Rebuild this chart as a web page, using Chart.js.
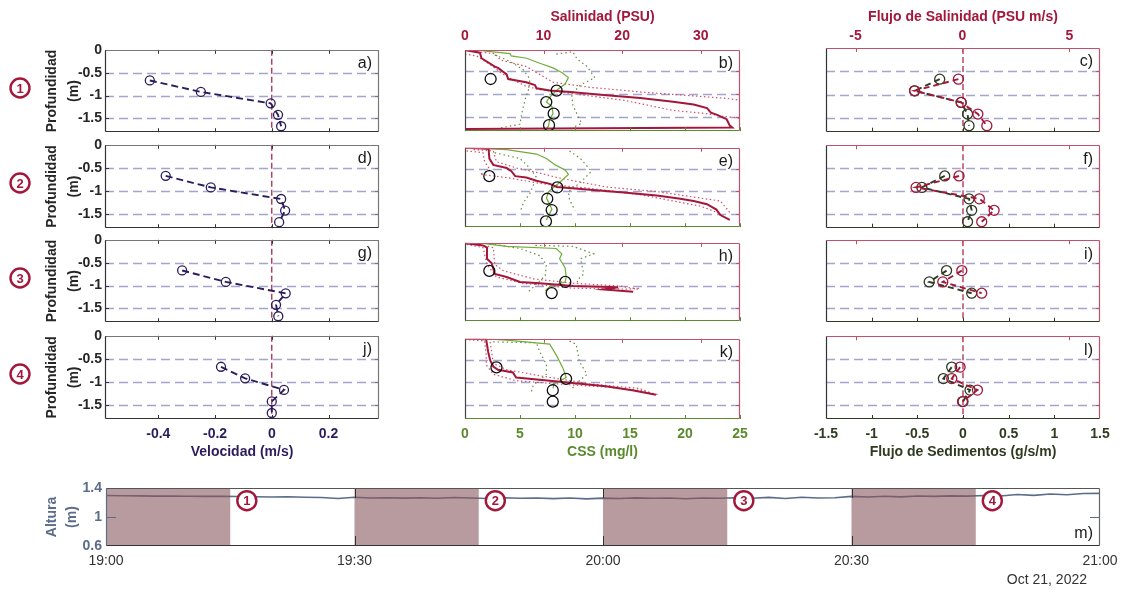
<!DOCTYPE html>
<html>
<head>
<meta charset="utf-8">
<script src="https://cdn.jsdelivr.net/npm/chart.js@4.4.1/dist/chart.umd.min.js"></script>
<style>
  html, body { margin: 0; padding: 0; background: #fff; }
  #fig { position: relative; width: 1122px; height: 592px; overflow: hidden; background: #fff; }
  #fig canvas { position: absolute; }
</style>
</head>
<body>
<div id="fig"></div>
<script>
// ---------------------------------------------------------------------------
// Data
// ---------------------------------------------------------------------------
// Depth (m) of the ADCP bins
const binDepth = [-0.67, -0.92, -1.17, -1.42, -1.67];

// Along-channel velocity (m/s) per bin, one array per sampling window
const velA = [-0.43, -0.25, -0.004, 0.022, 0.033];
const velD = [-0.374, -0.215, 0.033, 0.047, 0.026];
const velG = [-0.316, -0.162, 0.049, 0.015, 0.023];
const velJ = [-0.179, -0.094, 0.043, 0.0, 0.0];

// Salt flux (PSU m/s) and sediment flux (g/s/m) per bin
const saltFluxC = [-0.19, -2.24, -0.06, 0.72, 1.14];
const saltFluxF = [-0.16, -2.17, 0.79, 1.48, 0.90];
const saltFluxI = [-0.03, -0.92, 0.90];
const saltFluxL = [-0.11, -0.50, 0.70, 0.0];
const sedFluxC = [-0.255, -0.53, -0.02, 0.05, 0.066];
const sedFluxF = [-0.20, -0.45, 0.066, 0.095, 0.05];
const sedFluxI = [-0.18, -0.37, 0.095];
const sedFluxL = [-0.124, -0.215, 0.077, 0.0];

// Suspended sediment concentration at the bins (mg/l)
const cssBinB = [2.33, 8.33, 7.39, 8.06, 7.64];
const cssBinE = [2.21, 8.39, 7.48, 7.88, 7.36];
const cssBinH = [2.21, 9.12, 7.88];
const cssBinK = [2.86, 9.19, 7.98, 7.98];

// CTD profiles as [value, depth] pairs: salinity (PSU) mean and +/- spread,
// turbidity-derived CSS (mg/l) mean and +/- spread
const salB = [[0.13,-0.05],[1.9,-0.10],[2.1,-0.22],[3.8,-0.40],[4.2,-0.43],[5.3,-0.57],[5.5,-0.67],[7.8,-0.74],[8.9,-0.80],[9.1,-0.87],[10.8,-0.92],[13.4,-0.95],[18.0,-1.02],[22.3,-1.08],[26.5,-1.16],[29.1,-1.22],[30.8,-1.30],[31.3,-1.40],[32.0,-1.44],[33.3,-1.54],[33.7,-1.68],[34.0,-1.72],[0.0,-1.75]];
const salLoB = [[0,-0.13],[1.5,-0.17],[3.2,-0.36],[4.7,-0.55],[5.9,-0.67],[7.8,-0.83],[9.5,-0.90],[13.8,-0.99],[20.2,-1.13],[26.5,-1.35],[30.8,-1.42],[33.0,-1.48],[35.0,-1.52]];
const salHiB = [[1.5,-0.08],[3.8,-0.12],[4.5,-0.26],[6.2,-0.33],[7.8,-0.40],[9.5,-0.57],[11.2,-0.74],[15.9,-0.85],[22.3,-0.95],[28.6,-1.03],[33.3,-1.09],[35.0,-1.13]];
const cssB = [[1.67,-0.06],[4.1,-0.12],[4.2,-0.17],[5.6,-0.22],[6.8,-0.33],[8.0,-0.43],[8.8,-0.53],[9.4,-0.64],[9.1,-0.78],[8.3,-0.92],[7.6,-1.09],[7.4,-1.17],[7.9,-1.26],[8.0,-1.42],[7.7,-1.54],[7.6,-1.68],[7.4,-1.75]];
const cssLoB = [[2.7,-0.15],[4.1,-0.29],[5.3,-0.47],[5.9,-0.67],[5.8,-0.88],[5.5,-1.09],[5.2,-1.37],[5.0,-1.65],[3.2,-1.73]];
const cssHiB = [[8.3,-0.13],[9.8,-0.08],[10.2,-0.24],[11.1,-0.40],[11.8,-0.64],[10.5,-0.80],[9.7,-0.99],[9.8,-1.23],[10.2,-1.44],[10.6,-1.63],[9.8,-1.72]];

const salE = [[0,-0.04],[3.0,-0.06],[3.1,-0.28],[3.6,-0.42],[5.3,-0.49],[5.9,-0.56],[6.4,-0.67],[7.8,-0.70],[9.1,-0.77],[10.8,-0.84],[11.7,-0.91],[15.9,-0.97],[20.2,-1.03],[24.4,-1.10],[26.5,-1.15],[27.4,-1.17],[29.1,-1.22],[30.8,-1.29],[32.0,-1.41],[32.5,-1.53],[33.7,-1.64]];
const salLoE = [[0.2,-0.11],[2.3,-0.15],[2.5,-0.35],[3.2,-0.53],[1.9,-0.63],[5.3,-0.70],[9.5,-0.83],[15.9,-0.94],[22.3,-1.08],[26.5,-1.22],[29.9,-1.33],[32.5,-1.50]];
const salHiE = [[1.1,-0.08],[3.6,-0.11],[4.0,-0.35],[6.6,-0.49],[9.5,-0.60],[11.7,-0.70],[18.0,-0.91],[24.4,-1.01],[28.6,-1.12],[32.5,-1.22],[33.7,-1.47]];
const cssE = [[1.67,-0.06],[3.8,-0.08],[6.5,-0.18],[7.4,-0.28],[8.2,-0.42],[9.1,-0.53],[9.4,-0.63],[8.6,-0.81],[7.6,-1.01],[7.4,-1.15],[7.9,-1.40],[7.4,-1.64]];
const cssLoE = [[2.7,-0.15],[5.0,-0.28],[5.9,-0.49],[6.5,-0.70],[5.9,-1.05],[5.3,-1.26],[5.0,-1.47]];
const cssHiE = [[9.5,-0.11],[10.5,-0.28],[11.5,-0.56],[10.5,-0.81],[9.4,-1.01],[9.5,-1.19],[10.0,-1.43]];

const salH = [[0,-0.05],[2.3,-0.10],[2.8,-0.15],[2.8,-0.40],[3.4,-0.50],[3.8,-0.74],[5.3,-0.81],[7.0,-0.92],[9.5,-0.95],[13.8,-1.01],[19.5,-1.04],[17.6,-1.09],[21.4,-1.14]];
const salLoH = [[0.2,-0.08],[2.3,-0.15],[2.8,-0.53],[4.0,-0.81],[7.4,-0.95],[13.8,-1.06],[20.6,-1.08],[22.3,-1.06]];
const salHiH = [[1.9,-0.08],[3.6,-0.15],[3.8,-0.53],[4.9,-0.67],[8.7,-0.85],[13.8,-0.95],[19.7,-1.01],[22.3,-1.09]];
const cssH = [[1.8,-0.06],[3.8,-0.12],[8.3,-0.17],[8.8,-0.29],[8.6,-0.40],[9.1,-0.60],[9.2,-0.81],[9.1,-0.92],[7.7,-1.02],[7.3,-1.12]];
const cssLoH = [[2.7,-0.08],[5.0,-0.17],[6.8,-0.33],[7.4,-0.53],[7.3,-0.78],[5.8,-1.13]];
const cssHiH = [[6.4,-0.10],[9.8,-0.12],[11.7,-0.29],[10.5,-0.40],[10.8,-0.74],[10.2,-0.88],[10.3,-1.09]];

const salK = [[0,-0.02],[2.7,-0.06],[2.95,-0.33],[3.2,-0.51],[3.6,-0.65],[4.2,-0.72],[6.1,-0.78],[6.5,-0.89],[9.5,-0.94],[13.7,-1.01],[17.9,-1.08],[21.3,-1.17],[24.3,-1.27]];
const salLoK = [[0,-0.06],[2.5,-0.09],[2.7,-0.40],[2.7,-0.61],[3.6,-0.82],[6.5,-0.96],[11.6,-1.03],[17.9,-1.10],[22.2,-1.17],[24.7,-1.27]];
const salHiK = [[3.2,-0.11],[3.6,-0.58],[5.3,-0.72],[9.5,-0.85],[15.8,-1.03],[22.2,-1.13],[23.8,-1.24]];
const cssK = [[1.66,-0.04],[3.77,-0.07],[7.7,-0.16],[8.3,-0.40],[8.9,-0.68],[9.2,-0.89],[8.1,-1.03],[8.0,-1.13]];
const cssLoK = [[2.56,-0.11],[6.5,-0.13],[6.8,-0.33],[7.4,-0.61],[7.4,-0.82],[6.2,-1.06],[6.0,-1.24]];
const cssHiK = [[9.5,-0.09],[10.1,-0.16],[10.4,-0.54],[11.1,-0.82],[10.4,-0.96],[9.6,-1.17]];

// Water level (m) every two minutes from 19:00
const tideMinute = [0,2,4,6,8,10,12,14,16,18,20,22,24,26,28,30,32,34,36,38,40,42,44,46,48,50,52,54,56,58,60,62,64,66,68,70,72,74,76,78,80,82,84,86,88,90,92,94,96,98,100,102,104,106,108,110,112,114,116,118,120];
const tideHeight = [1.297,1.294,1.292,1.288,1.290,1.286,1.284,1.286,1.282,1.280,1.276,1.279,1.272,1.268,1.256,1.272,1.262,1.266,1.260,1.266,1.258,1.268,1.262,1.255,1.266,1.258,1.262,1.254,1.262,1.250,1.260,1.256,1.264,1.258,1.262,1.252,1.262,1.258,1.266,1.258,1.270,1.256,1.272,1.262,1.266,1.285,1.276,1.286,1.278,1.290,1.284,1.292,1.288,1.296,1.290,1.310,1.298,1.318,1.306,1.324,1.326];
// Sampling windows (minutes after 19:00) and their numbers
const sampleWindows = [[0, 15], [30, 45], [60, 75], [90, 105]];
const windowNames = ['1', '2', '3', '4'];

// Axis ticks
const depthTicks = [0, -0.5, -1, -1.5];
const velTicks = [-0.4, -0.2, 0, 0.2];
const salTicks = [0, 10, 20, 30];
const cssTicks = [0, 5, 10, 15, 20, 25];
const saltFluxTicks = [-5, 0, 5];
const sedFluxTicks = [-1.5, -1, -0.5, 0, 0.5, 1, 1.5];
const tideTicks = [0.6, 1, 1.4];
const timeTicks = [0, 30, 60, 90, 120];
const timeLabels = ['19:00', '19:30', '20:00', '20:30', '21:00'];

// ---------------------------------------------------------------------------
// Styling
// ---------------------------------------------------------------------------
const INK = '#262626';
const NAVY = '#2b1d5c';
const CRIMSON = '#a3173b';
const CRIMSON_FRAME = '#c0506c';
const CSS_GREEN = '#5b8a2e';
const CSS_LINE = '#6fae37';
const CSS_DOT = '#5f9040';
const SED_GREEN = '#2f3b20';
const SLATE = '#5b6d89';
const GUIDE = '#a4a4cc';
const FONT = "'Liberation Sans', Arial, Helvetica, sans-serif";

Chart.defaults.font.family = FONT;

// Row extents (page px) of the four profile rows and the three columns
const rowTop = [48, 143, 238, 334];
const rowBot = [134, 230, 324, 419];
const colVel = { x: 105, w: 274 };
const colProf = { x: 465, w: 275 };
const colFlux = { x: 826, w: 274 };

const fig = document.getElementById('fig');

// ---------------------------------------------------------------------------
// Decorations: guide lines, shaded windows, frame, inward ticks, labels
// ---------------------------------------------------------------------------
function badge(ctx, x, y, text) {
  ctx.save();
  ctx.setLineDash([]);
  ctx.beginPath();
  ctx.arc(x, y, 9.5, 0, Math.PI * 2);
  ctx.fillStyle = '#fff';
  ctx.fill();
  ctx.lineWidth = 2.4;
  ctx.strokeStyle = CRIMSON;
  ctx.stroke();
  ctx.fillStyle = CRIMSON;
  ctx.font = 'bold 13px ' + FONT;
  ctx.textAlign = 'center';
  ctx.textBaseline = 'middle';
  ctx.fillText(text, x, y + 1);
  ctx.restore();
}

const decorPlugin = {
  id: 'decor',
  beforeDatasetsDraw(chart) {
    const d = chart.canvas.decor;
    if (!d || !d.hlines) return;
    const { ctx, chartArea: a, scales } = chart;
    ctx.save();
    ctx.strokeStyle = GUIDE;
    ctx.lineWidth = 1.4;
    ctx.setLineDash([9, 5]);
    d.hlines.forEach(v => {
      const p = Math.round(scales.y.getPixelForValue(v)) + 0.5;
      ctx.beginPath();
      ctx.moveTo(a.left, p);
      ctx.lineTo(a.right, p);
      ctx.stroke();
    });
    ctx.restore();
  },
  afterDatasetsDraw(chart) {
    const d = chart.canvas.decor;
    if (!d) return;
    const { ctx, chartArea: a, scales } = chart;
    ctx.save();
    ctx.setLineDash([]);
    if (d.bands) {
      const sc = scales[d.bands.scale];
      ctx.fillStyle = d.bands.color;
      d.bands.ranges.forEach(([s, e]) => {
        const x0 = sc.getPixelForValue(s), x1 = sc.getPixelForValue(e);
        ctx.fillRect(x0, a.top, x1 - x0, a.bottom - a.top);
      });
    }
    (d.ticks || []).forEach(t => {
      const sc = scales[t.scale];
      ctx.strokeStyle = t.color;
      ctx.lineWidth = 1;
      t.values.forEach(v => {
        const p = Math.round(sc.getPixelForValue(v)) + 0.5;
        ctx.beginPath();
        if (t.side === 'top') { ctx.moveTo(p, a.top); ctx.lineTo(p, a.top + t.len); }
        else if (t.side === 'bottom') { ctx.moveTo(p, a.bottom); ctx.lineTo(p, a.bottom - t.len); }
        else if (t.side === 'left') { ctx.moveTo(a.left, p); ctx.lineTo(a.left + t.len, p); }
        else { ctx.moveTo(a.right, p); ctx.lineTo(a.right - t.len, p); }
        ctx.stroke();
      });
    });
    if (d.frame) {
      const L = Math.round(a.left) + 0.5, R = Math.round(a.right) - 0.5;
      const T = Math.round(a.top) + 0.5, B = Math.round(a.bottom) - 0.5;
      const seg = (x0, y0, x1, y1, c) => {
        ctx.strokeStyle = c; ctx.lineWidth = 1.2;
        ctx.beginPath(); ctx.moveTo(x0, y0); ctx.lineTo(x1, y1); ctx.stroke();
      };
      seg(L, T, R, T, d.frame.top);
      seg(R, T, R, B, d.frame.right);
      seg(L, B, R, B, d.frame.bottom);
      seg(L, T, L, B, d.frame.left);
    }
    if (d.label) {
      ctx.fillStyle = '#1a1a1a';
      ctx.font = '16px ' + FONT;
      ctx.textAlign = 'right';
      ctx.textBaseline = 'middle';
      const y = d.label.atBottom ? a.bottom - 12 : a.top + 14;
      ctx.fillText(d.label.text, a.right - 7, y);
    }
    (d.texts || []).forEach(t => {
      ctx.fillStyle = t.color;
      ctx.font = t.font;
      ctx.textAlign = t.align;
      ctx.textBaseline = 'middle';
      ctx.fillText(t.text, t.x - d.ox, t.y - d.oy);
    });
    (d.badges || []).forEach(b => {
      let x, y;
      if (b.px !== undefined) { x = b.px - d.ox; y = b.py - d.oy; }
      else { x = scales.x.getPixelForValue(b.x); y = scales.y.getPixelForValue(b.y); }
      badge(ctx, x, y, b.text);
    });
    ctx.restore();
  }
};
Chart.register(decorPlugin);

// ---------------------------------------------------------------------------
// Helpers
// ---------------------------------------------------------------------------
const fmt = v => String(Math.round(v * 100) / 100);
const pts = (xs, ys) => xs.map((x, i) => ({ x, y: ys[i] }));
const pairs = arr => arr.map(([x, y]) => ({ x, y }));

function axis(o) {
  const titleFont = { size: 14, weight: 'bold', lineHeight: o.titleLH ? o.titleLH / 14 : 1.2 };
  return {
    type: 'linear',
    position: o.pos,
    min: o.min,
    max: o.max,
    display: !!o.show,
    grid: { display: false, drawTicks: false },
    border: { display: false },
    afterBuildTicks: s => { s.ticks = o.ticks.map(v => ({ value: v })); },
    afterFit: s => {
      if (!o.show) return;
      if (s.isHorizontal()) s.height = o.size; else s.width = o.size;
      s.paddingLeft = s.paddingRight = s.paddingTop = s.paddingBottom = 0;
    },
    ticks: {
      display: !!o.show,
      autoSkip: false,
      maxRotation: 0,
      minRotation: 0,
      padding: o.pad === undefined ? 4 : o.pad,
      color: o.color,
      font: { size: 14, weight: o.normal ? 'normal' : 'bold' },
      callback: o.labels ? (v => o.labels[o.ticks.indexOf(v)]) : (v => fmt(v))
    },
    title: o.title && o.show
      ? { display: true, text: o.title, color: o.color, font: titleFont, padding: o.titlePad }
      : { display: false }
  };
}

function makeChart(area, pad, datasets, scales, decor) {
  const cv = document.createElement('canvas');
  const cw = area.w + pad.l + pad.r, ch = area.h + pad.t + pad.b;
  const ox = area.x - pad.l, oy = area.y - pad.t;
  cv.width = cw; cv.height = ch;
  cv.style.left = ox + 'px'; cv.style.top = oy + 'px';
  cv.style.width = cw + 'px'; cv.style.height = ch + 'px';
  fig.appendChild(cv);
  decor.ox = ox; decor.oy = oy;
  cv.decor = decor;
  const shown = { left: false, right: false, top: false, bottom: false };
  Object.values(scales).forEach(s => { if (s.display) shown[s.position] = true; });
  return new Chart(cv, {
    type: 'scatter',
    data: { datasets },
    options: {
      animation: false,
      responsive: false,
      events: [],
      layout: { padding: {
        left: shown.left ? 0 : pad.l, right: shown.right ? 0 : pad.r,
        top: shown.top ? 0 : pad.t, bottom: shown.bottom ? 0 : pad.b } },
      plugins: { legend: { display: false }, tooltip: { enabled: false } },
      elements: { line: { tension: 0 } },
      scales
    }
  });
}

function lineSet(data, color, width, dash, xAxisID, order) {
  return { data, xAxisID, showLine: true, borderColor: color, borderWidth: width,
           borderDash: dash, pointRadius: 0, order };
}
function markerSet(data, color, radius, dash, xAxisID, order) {
  return { data, xAxisID, showLine: !!dash, borderColor: color, borderWidth: dash ? 1.9 : 0,
           borderDash: dash || [], pointRadius: radius, pointBorderColor: color,
           pointBackgroundColor: 'rgba(0,0,0,0)', pointBorderWidth: 1.3, order };
}

// ---------------------------------------------------------------------------
// Left column: velocity profiles
// ---------------------------------------------------------------------------
const velPanels = [
  { vel: velA, label: 'a)' }, { vel: velD, label: 'd)' },
  { vel: velG, label: 'g)' }, { vel: velJ, label: 'j)' }
];
velPanels.forEach((p, r) => {
  const area = { x: colVel.x, y: rowTop[r], w: colVel.w, h: rowBot[r] - rowTop[r] };
  const pad = { l: 105, r: 8, t: 4, b: r === 3 ? 45 : 4 };
  const datasets = [
    markerSet(pts(p.vel, binDepth), NAVY, 4.5, [7, 4], 'x', 1),
    lineSet([{ x: 0, y: 0 }, { x: 0, y: -1.8 }], CRIMSON, 1.2, [6, 3], 'x', 5)
  ];
  const scales = {
    x: axis({ pos: 'bottom', min: -0.588, max: 0.378, ticks: velTicks, show: r === 3, size: pad.b,
              color: NAVY, pad: 7, title: 'Velocidad (m/s)', titlePad: { top: 0, bottom: 3 } }),
    y: axis({ pos: 'left', min: -1.8, max: 0, ticks: depthTicks, show: true, size: 105, color: INK,
              pad: 3, title: ['Profundidad', '(m)'], titleLH: 22, titlePad: { top: 41, bottom: 0 } })
  };
  makeChart(area, pad, datasets, scales, {
    hlines: [-0.5, -1, -1.5],
    frame: { left: '#333', bottom: '#333', top: '#777', right: '#777' },
    ticks: [
      { scale: 'x', side: 'bottom', values: velTicks, color: '#333', len: 4 },
      { scale: 'x', side: 'top', values: velTicks, color: '#333', len: 4 },
      { scale: 'y', side: 'left', values: depthTicks, color: '#333', len: 4 },
      { scale: 'y', side: 'right', values: depthTicks, color: '#777', len: 4 }
    ],
    label: { text: p.label },
    badges: [{ px: 20, py: rowTop[r] + 40, text: windowNames[r] }]
  });
});

// ---------------------------------------------------------------------------
// Middle column: salinity and CSS profiles
// ---------------------------------------------------------------------------
const profPanels = [
  { sal: salB, lo: salLoB, hi: salHiB, css: cssB, cLo: cssLoB, cHi: cssHiB, bins: cssBinB, label: 'b)' },
  { sal: salE, lo: salLoE, hi: salHiE, css: cssE, cLo: cssLoE, cHi: cssHiE, bins: cssBinE, label: 'e)' },
  { sal: salH, lo: salLoH, hi: salHiH, css: cssH, cLo: cssLoH, cHi: cssHiH, bins: cssBinH, label: 'h)' },
  { sal: salK, lo: salLoK, hi: salHiK, css: cssK, cLo: cssLoK, cHi: cssHiK, bins: cssBinK, label: 'k)' }
];
profPanels.forEach((p, r) => {
  const top = rowTop[r] + 2;
  const h = rowBot[r] - top;
  const yMax = -2 * 1.8 / (rowBot[r] - rowTop[r]);
  const area = { x: colProf.x, y: top, w: colProf.w, h };
  const pad = { l: 8, r: 12, t: r === 0 ? top : 4, b: r === 3 ? 45 : 4 };
  const datasets = [
    markerSet(pts(p.bins, binDepth), '#111', 5.5, null, 'xC', 0),
    lineSet(pairs(p.sal), CRIMSON, 2, [], 'xS', 1),
    lineSet(pairs(p.css), CSS_LINE, 1.2, [], 'xC', 2),
    lineSet(pairs(p.lo), '#d0506a', 1.2, [1.5, 2.5], 'xS', 3),
    lineSet(pairs(p.hi), '#d0506a', 1.2, [1.5, 2.5], 'xS', 3),
    lineSet(pairs(p.cLo), CSS_DOT, 1.2, [1.5, 3], 'xC', 4),
    lineSet(pairs(p.cHi), CSS_DOT, 1.2, [1.5, 3], 'xC', 4)
  ];
  const scales = {
    xS: axis({ pos: 'top', min: 0, max: 35, ticks: salTicks, show: r === 0, size: pad.t, color: CRIMSON,
               pad: 5.6, title: 'Salinidad (PSU)', titlePad: { top: 8.3, bottom: 0 } }),
    xC: axis({ pos: 'bottom', min: 0, max: 25, ticks: cssTicks, show: r === 3, size: pad.b, color: CSS_GREEN,
               pad: 6.5, title: 'CSS (mg/l)', titlePad: { top: 0, bottom: 3 } }),
    y: axis({ pos: 'left', min: -1.8, max: yMax, ticks: depthTicks, show: false })
  };
  makeChart(area, pad, datasets, scales, {
    hlines: [-0.5, -1, -1.5],
    frame: { left: '#444', bottom: CSS_GREEN, top: CRIMSON_FRAME, right: CRIMSON_FRAME },
    ticks: [
      { scale: 'xS', side: 'top', values: salTicks, color: CRIMSON_FRAME, len: 4 },
      { scale: 'xC', side: 'bottom', values: cssTicks, color: CSS_GREEN, len: 4 },
      { scale: 'y', side: 'right', values: [-0.5, -1, -1.5], color: CRIMSON_FRAME, len: 4 }
    ],
    label: { text: p.label }
  });
});

// ---------------------------------------------------------------------------
// Right column: salt and sediment fluxes
// ---------------------------------------------------------------------------
const fluxPanels = [
  { salt: saltFluxC, sed: sedFluxC, label: 'c)' }, { salt: saltFluxF, sed: sedFluxF, label: 'f)' },
  { salt: saltFluxI, sed: sedFluxI, label: 'i)' }, { salt: saltFluxL, sed: sedFluxL, label: 'l)' }
];
fluxPanels.forEach((p, r) => {
  const area = { x: colFlux.x, y: rowTop[r], w: colFlux.w, h: rowBot[r] - rowTop[r] };
  const pad = { l: 16, r: 16, t: r === 0 ? rowTop[0] : 4, b: r === 3 ? 45 : 4 };
  const datasets = [
    markerSet(pts(p.salt, binDepth), CRIMSON, 5, [6, 4], 'xF', 1),
    markerSet(pts(p.sed, binDepth), SED_GREEN, 5, [6, 4], 'xSed', 2),
    lineSet([{ x: 0, y: 0 }, { x: 0, y: -1.8 }], CRIMSON, 1.2, [6, 3], 'xSed', 5)
  ];
  const scales = {
    xF: axis({ pos: 'top', min: -6.38, max: 6.43, ticks: saltFluxTicks, show: r === 0, size: pad.t,
               color: CRIMSON, pad: 3.6, title: 'Flujo de Salinidad (PSU m/s)', titlePad: { top: 8.3, bottom: 0 } }),
    xSed: axis({ pos: 'bottom', min: -1.5, max: 1.5, ticks: sedFluxTicks, show: r === 3, size: pad.b,
                 color: SED_GREEN, pad: 6.5, title: 'Flujo de Sedimentos (g/s/m)', titlePad: { top: 0, bottom: 3 } }),
    y: axis({ pos: 'left', min: -1.8, max: 0, ticks: depthTicks, show: false })
  };
  makeChart(area, pad, datasets, scales, {
    hlines: [-0.5, -1, -1.5],
    frame: { left: '#333', bottom: SED_GREEN, top: CRIMSON_FRAME, right: CRIMSON_FRAME },
    ticks: [
      { scale: 'xF', side: 'top', values: saltFluxTicks, color: CRIMSON_FRAME, len: 4 },
      { scale: 'xSed', side: 'bottom', values: [-1, -0.5, 0, 0.5, 1], color: SED_GREEN, len: 4 },
      { scale: 'y', side: 'right', values: [-0.5, -1, -1.5], color: CRIMSON_FRAME, len: 4 }
    ],
    label: { text: p.label }
  });
});

// ---------------------------------------------------------------------------
// Bottom: water level with the four sampling windows
// ---------------------------------------------------------------------------
(() => {
  const area = { x: 106, y: 488, w: 994, h: 58 };
  const pad = { l: 106, r: 22, t: 10, b: 46 };
  const datasets = [
    { data: pts(tideMinute, tideHeight), showLine: true, borderColor: SLATE, borderWidth: 1.6,
      pointRadius: 0, order: 1 }
  ];
  const scales = {
    x: axis({ pos: 'bottom', min: 0, max: 120, ticks: timeTicks, labels: timeLabels, show: true,
              size: pad.b, color: '#333', pad: 6.6, normal: true }),
    y: axis({ pos: 'left', min: 0.6, max: 1.4, ticks: tideTicks, show: true, size: 106, color: SLATE,
              pad: 4, title: ['Altura', '(m)'], titleLH: 20, titlePad: { top: 42, bottom: 0 } })
  };
  makeChart(area, pad, datasets, scales, {
    bands: { scale: 'x', ranges: sampleWindows, color: 'rgba(137,88,93,0.6)' },
    frame: { left: SLATE, bottom: '#333', top: '#555', right: '#666' },
    ticks: [
      { scale: 'x', side: 'top', values: [30, 60, 90], color: '#333', len: 10 },
      { scale: 'x', side: 'bottom', values: [30, 60, 90], color: '#333', len: 10 },
      { scale: 'y', side: 'left', values: [1], color: SLATE, len: 10 },
      { scale: 'y', side: 'right', values: [1], color: SLATE, len: 10 }
    ],
    label: { text: 'm)', atBottom: true },
    texts: [{ text: 'Oct 21, 2022', x: 1087, y: 580, align: 'right', color: '#333', font: '14px ' + FONT }],
    badges: sampleWindows.map((w, i) => ({ x: w[1] + 2, y: 1.225, text: windowNames[i] }))
  });
})();
</script>
</body>
</html>
